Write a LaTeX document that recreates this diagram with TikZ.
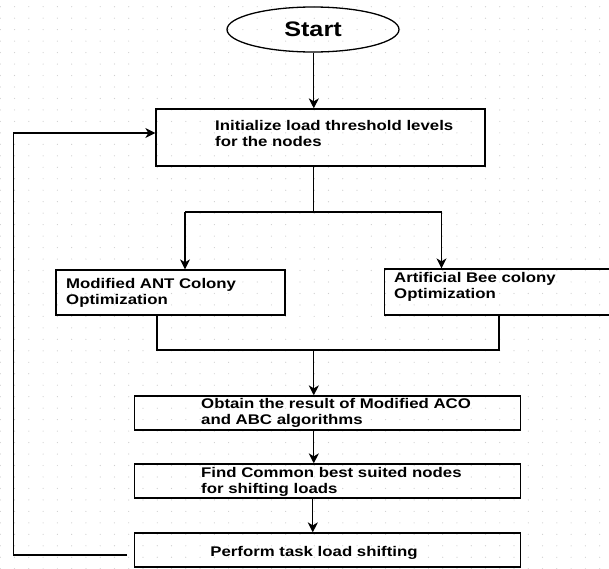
\documentclass[tikz,border=0pt]{standalone}
\usepackage{fontspec}
\setmainfont{Liberation Sans}[FakeStretch=1.2]
\usetikzlibrary{arrows.meta,shapes.geometric}
\definecolor{griddot}{HTML}{CFCFCF}
\begin{document}
\begin{tikzpicture}[x=1pt,y=-1pt,
  box/.style={draw=black,line width=1.3pt,rectangle,inner sep=0pt},
  txt/.style={anchor=west,inner sep=0pt,align=left,font=\fontsize{14}{16}\selectfont\bfseries},
  conn/.style={draw=black,line width=1.2pt},
  arrow/.style={conn,-{Stealth[length=10pt,width=10pt,inset=3pt]}}]
\clip (0,0) rectangle (609,568);
\fill[white] (0,0) rectangle (609,568);
% dotted background grid
\foreach \i in {0,...,42}{
  \foreach \j in {0,...,49}{
    \fill[griddot] ({0.3+14.27*\i},{6.7+11.47*\j}) circle (0.6);
  }
}
% shapes
\node[draw=black,line width=1.3pt,ellipse,minimum width=172pt,minimum height=45pt,inner sep=0pt,
      font=\fontsize{21}{24}\selectfont\bfseries] (start) at (313,29.5) {\raisebox{-2pt}{Start}};
\node[box,minimum width=329pt,minimum height=57pt] (init) at (320.5,137.5) {};
\node[box,minimum width=229pt,minimum height=45pt] (aco) at (170.5,292.5) {};
\node[box,minimum width=241pt,minimum height=46pt] (abc) at (505,292) {};
\node[box,minimum width=385.6pt,minimum height=34pt] (res) at (327.6,413) {};
\node[box,minimum width=385.6pt,minimum height=34pt] (find) at (327.6,481) {};
\node[box,minimum width=385.6pt,minimum height=34pt] (shift) at (327.6,550) {};
% labels
\node[txt] (initT) at (215,133) {Initialize load threshold levels\\for the nodes};
\node[txt] (acoT) at (66,292.5) {Modified ANT Colony\\Optimization};
\node[txt] (abcT) at (394,287) {Artificial Bee colony\\Optimization};
\node[txt] (resT) at (201,413) {Obtain the result of Modified ACO\\and ABC algorithms};
\node[txt] (findT) at (201,481.5) {Find Common best suited nodes\\for shifting loads};
\node[txt,anchor=center] (shiftT) at (314,553) {Perform task load shifting};
% routing points
\coordinate (sp) at (313.8,212);
\coordinate (aL) at (185,212);
\coordinate (aR) at (441.5,212);
\coordinate (mL) at (157,350);
\coordinate (mM) at (313.8,350);
\coordinate (mR) at (499,350);
\coordinate (fbTop) at (13.6,133);
% connectors
\draw[arrow] (start.south -| sp) -- (sp |- init.north);
\draw[conn] (sp |- init.south) -- (sp);
\draw[conn] (aL) -- (aR);
\draw[arrow] (aL) -- (aL |- aco.north);
\draw[arrow] (aR) -- (aR |- abc.north);
\draw[conn] (mL |- aco.south) -- (mL) -- (mR) -- (mR |- abc.south);
\draw[arrow] (mM) -- (mM |- res.north);
\draw[arrow] (mM |- res.south) -- (mM |- find.north);
\draw[arrow] ([xshift=-1pt]mM |- find.south) -- ([xshift=-1pt]mM |- shift.north);
\draw[arrow] ([shift={(-7,5)}]shift.west) -| (fbTop) -- (init.west |- fbTop);
\end{tikzpicture}
\end{document}
